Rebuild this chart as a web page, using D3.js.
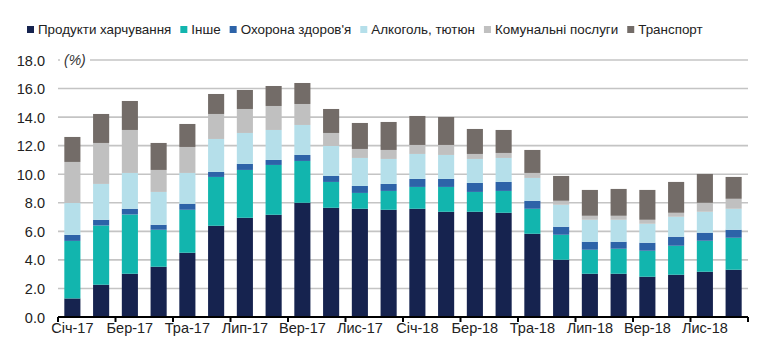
<!DOCTYPE html>
<html><head><meta charset="utf-8">
<script src="https://cdn.jsdelivr.net/npm/d3@7"></script>
<style>
body{margin:0;background:#fff;}
svg text{font-family:"Liberation Sans",Arial,sans-serif;}
</style></head>
<body><svg id="c" width="767" height="348"></svg>
<script>
const months = ["Січ-17","Лют-17","Бер-17","Кві-17","Тра-17","Чер-17","Лип-17","Сер-17","Вер-17","Жов-17","Лис-17","Гру-17",
"Січ-18","Лют-18","Бер-18","Кві-18","Тра-18","Чер-18","Лип-18","Сер-18","Вер-18","Жов-18","Лис-18","Гру-18"];
const seriesNames = ["Продукти харчування","Інше","Охорона здоров'я","Алкоголь, тютюн","Комунальні послуги","Транспорт"];
const seriesColors = ["#16234f","#12b5ae","#2d63a8","#b5dfea","#c0c0c0","#736c68"];
const food      = [1.30,2.26,3.03,3.52,4.50,6.39,6.95,7.16,8.00,7.65,7.58,7.51,7.58,7.37,7.37,7.30,5.83,4.01,3.03,3.03,2.82,2.96,3.17,3.31];
const other     = [4.03,4.15,4.15,2.59,3.01,3.42,3.35,3.49,2.93,1.81,1.11,1.32,1.53,1.74,1.39,1.53,1.75,1.75,1.68,1.75,1.82,2.03,2.17,2.24];
const health    = [0.42,0.40,0.40,0.35,0.42,0.35,0.42,0.35,0.42,0.42,0.49,0.49,0.56,0.56,0.63,0.63,0.56,0.56,0.56,0.49,0.56,0.63,0.56,0.56];
const alcohol   = [2.24,2.51,2.51,2.30,2.16,2.31,2.17,2.10,2.10,2.10,1.96,1.75,1.75,1.68,1.68,1.68,1.60,1.54,1.54,1.54,1.33,1.40,1.47,1.47];
const utilities = [2.87,2.87,3.01,1.54,1.82,1.75,1.68,1.68,1.47,0.91,0.63,0.63,0.63,0.70,0.35,0.35,0.35,0.28,0.28,0.28,0.28,0.28,0.63,0.70];
const transport = [1.75,2.03,2.03,1.89,1.61,1.40,1.33,1.40,1.47,1.68,1.82,1.96,2.03,1.96,1.75,1.61,1.61,1.74,1.81,1.88,2.09,2.16,2.02,1.53];
const yTicks = [0,2,4,6,8,10,12,14,16,18];
const labelMonths = months.filter((d,i)=>i%2===0);

const seriesData = [food,other,health,alcohol,utilities,transport];
const rows = months.map((m,i)=>{const o={month:m}; seriesNames.forEach((s,j)=>o[s]=seriesData[j][i]); return o;});
const stacked = d3.stack().keys(seriesNames)(rows);

const svg = d3.select("#c");
const x = d3.scaleBand().domain(months).range([58,748]).paddingInner(0.44).paddingOuter(0.22);
const y = d3.scaleLinear().domain([0,18]).range([317,60]);

// gridlines
svg.append("g").selectAll("line").data(yTicks.filter(d=>d>0)).join("line")
  .attr("x1",58).attr("x2",748).attr("y1",d=>y(d)).attr("y2",d=>y(d))
  .attr("stroke","#c4c4c4").attr("stroke-width",1.6);

// (%) label
svg.append("rect").attr("x",60).attr("y",y(18)-9).attr("width",30).attr("height",18).attr("fill","#fff");
svg.append("text").attr("x",64).attr("y",y(18)+5).attr("font-size",14).attr("font-style","italic").attr("fill","#333").text("(%)");

// y tick labels
const yAxis = d3.axisLeft(y).tickValues(yTicks).tickFormat(d3.format(".1f")).tickSize(0).tickPadding(0);
const ya = svg.append("g").attr("transform","translate(45,0)").call(yAxis);
ya.select(".domain").remove();
ya.selectAll("text").attr("font-size",14.5).attr("fill","#222").attr("dy","0.35em")
  .style("font-family",'"Liberation Sans",Arial,sans-serif');

// bars
svg.append("g").selectAll("g").data(stacked).join("g").attr("fill",(d,i)=>seriesColors[i])
  .selectAll("rect").data(d=>d).join("rect")
  .attr("x",d=>x(d.data.month)).attr("width",x.bandwidth())
  .attr("y",d=>y(d[1])).attr("height",d=>y(d[0])-y(d[1]));

// x axis
const xAxis = d3.axisBottom(x).tickValues(labelMonths).tickSize(0).tickPadding(6);
const xa = svg.append("g").attr("transform","translate(0,317)").call(xAxis);
xa.select(".domain").remove();
xa.selectAll("text").attr("font-size",14.5).attr("fill","#222")
  .style("font-family",'"Liberation Sans",Arial,sans-serif');
const gap = x.step()*x.paddingInner()/2;
const tickX = labelMonths.map(m=>x(m)-gap).concat([x(months[months.length-1])+x.bandwidth()+gap]);
svg.append("line").attr("x1",58).attr("x2",748).attr("y1",317).attr("y2",317).attr("stroke","#000").attr("stroke-width",2);
svg.append("g").selectAll("line").data(tickX).join("line")
  .attr("x1",d=>d).attr("x2",d=>d).attr("y1",317).attr("y2",322).attr("stroke","#000").attr("stroke-width",2);

// legend
const leg = svg.append("g").attr("transform","translate(27,34)");
let lx = 0;
seriesNames.forEach((s,i)=>{
  const g = leg.append("g").attr("transform",`translate(${lx},0)`);
  g.append("rect").attr("x",0).attr("y",-8).attr("width",7).attr("height",7).attr("fill",seriesColors[i]);
  const t = g.append("text").attr("x",11).attr("y",0).attr("font-size",13.4).attr("fill","#222").text(s);
  lx += 11 + t.node().getComputedTextLength() + 9;
});
</script></body></html>
